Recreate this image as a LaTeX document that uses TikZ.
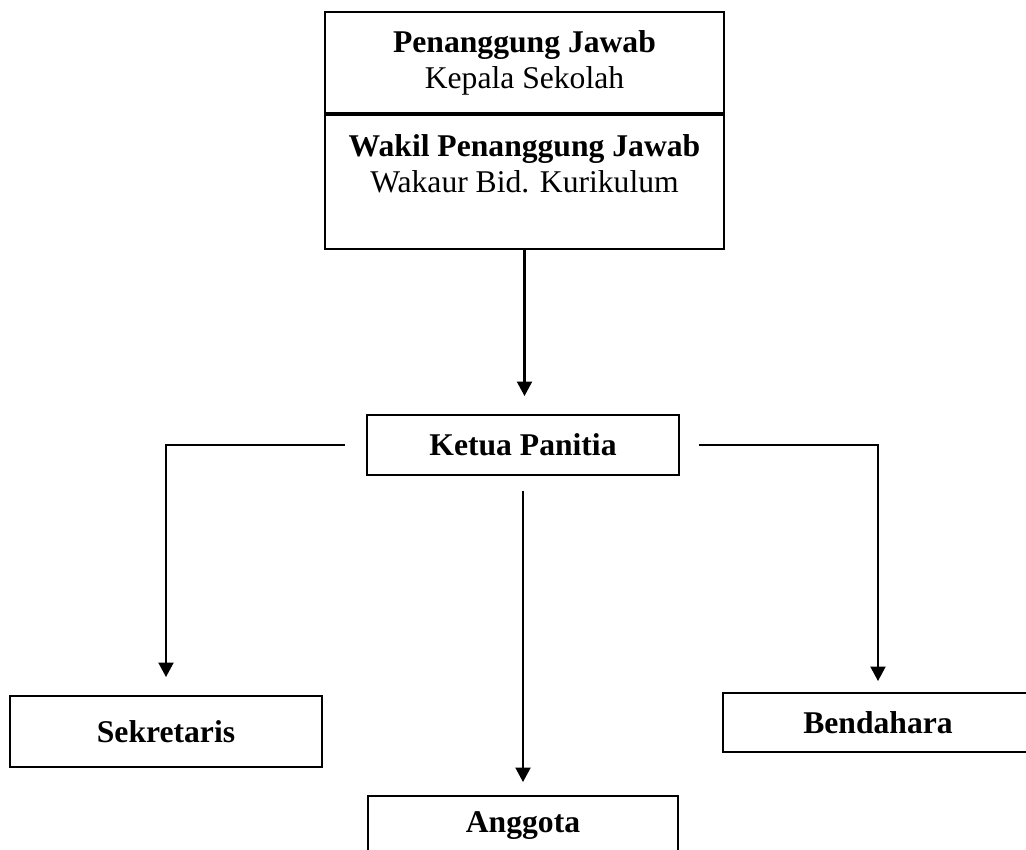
\documentclass[tikz,border=0pt]{standalone}
\usepackage{fontspec}
\setmainfont{Liberation Serif}
\usetikzlibrary{positioning}
\usetikzlibrary{arrows.meta}

\begin{document}
\begin{tikzpicture}[
    kotak/.style={shape=rectangle, draw, line width=1.1pt, align=center, inner sep=0pt,
      font=\fontsize{18}{20.5}\selectfont},
    teks/.style={align=center, inner sep=0pt, font=\fontsize{18}{20.5}\selectfont},
    panah/.style={line width=1.2pt, -{Triangle[length=2.9mm, width=3mm]}}
  ]
      \clip (0,0) rectangle (20.52,-17);
      \node[kotak, minimum width=7.98cm, minimum height=2.02cm] (pj) at (10.49,-1.25)
        {\textbf{Penanggung Jawab}\\Kepala Sekolah};
      \node[kotak, minimum width=7.98cm, minimum height=2.68cm, anchor=north] (wpj) at (pj.south) {};
      \node[teks] (wpjteks) at (10.49,-3.28) {\textbf{Wakil Penanggung Jawab}\\Wakaur Bid. Kurikulum};
      \node[kotak, minimum width=6.24cm, minimum height=1.2cm] (ketua) at (10.46,-8.9) {\textbf{Ketua Panitia}};
      \node[kotak, minimum width=6.24cm, minimum height=1.42cm] (sek) at (3.32,-14.63) {\textbf{Sekretaris}};
      \node[kotak, minimum width=6.2cm, minimum height=1.18cm] (bend) at (17.56,-14.45) {\textbf{Bendahara}};
      \node[kotak, minimum width=6.2cm, minimum height=1.2cm] (ang) at (10.46,-16.52) {\textbf{Anggota}};

      \draw[panah, shorten >=0.36cm] (wpj.south) -- (wpj.south |- ketua.north);
      \draw[panah, shorten <=0.42cm, shorten >=0.36cm] (ketua.west) -| (sek.north);
      \draw[panah, shorten <=0.38cm, shorten >=0.22cm] (ketua.east) -| (bend.north);
      \draw[panah, shorten <=0.3cm, shorten >=0.26cm] (ketua.south) -- (ang.north);
\end{tikzpicture}
\end{document}
